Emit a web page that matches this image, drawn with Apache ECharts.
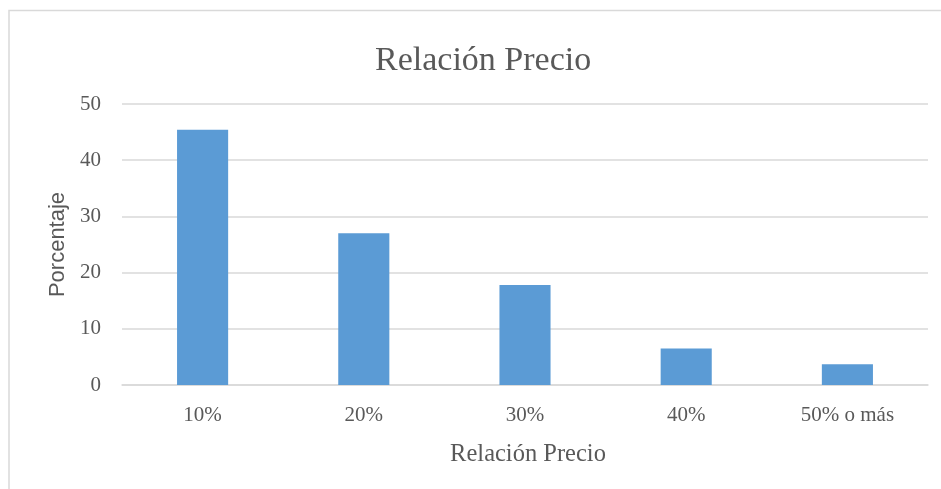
<!DOCTYPE html>
<html>
<head>
<meta charset="utf-8">
<script src="https://cdn.jsdelivr.net/npm/echarts@6/dist/echarts.min.js"></script>
<style>
  html, body { margin: 0; padding: 0; background: #fff; }
  #chartBox { width: 941px; height: 489px; }
</style>
</head>
<body>
<div id="chartBox"></div>
<script>
// categorías y valores
const categories = ["10%", "20%", "30%", "40%", "50% o más"];
const percentages = [45.4, 27.0, 17.8, 6.5, 3.7];

const chart = echarts.init(document.getElementById("chartBox"));

const option = {
  animation: false,
  // marco exterior del gráfico
  graphic: [
    {
      type: "rect",
      shape: { x: 9, y: 10.5, width: 960, height: 520 },
      style: { fill: "none", stroke: "#d9d9d9", lineWidth: 1.5 },
      silent: true,
    },
  ],
  title: {
    text: "Relación Precio",
    left: 370,
    top: 39,
    textStyle: {
      fontFamily: "Liberation Serif",
      fontWeight: "normal",
      fontSize: 34,
      color: "#595959",
    },
  },
  grid: {
    left: 122,
    right: 13,
    top: 104,
    bottom: 104,
  },
  xAxis: {
    type: "category",
    data: categories,
    name: "Relación Precio",
    nameLocation: "middle",
    nameGap: 57,
    nameTextStyle: {
      fontFamily: "Liberation Serif",
      fontSize: 24.5,
      color: "#595959",
      verticalAlign: "top",
      padding: [0, 0, 0, 6],
    },
    axisLine: { lineStyle: { color: "#d9d9d9", width: 1.5 } },
    axisTick: { show: false },
    axisLabel: {
      fontFamily: "Liberation Serif",
      fontSize: 21,
      color: "#595959",
      margin: 20,
    },
  },
  yAxis: {
    type: "value",
    min: 0,
    max: 50,
    interval: 10,
    name: "Porcentaje",
    nameLocation: "middle",
    nameGap: 53,
    nameTextStyle: {
      fontFamily: "Liberation Sans",
      fontSize: 22,
      color: "#595959",
    },
    axisLine: { show: false },
    axisTick: { show: false },
    axisLabel: {
      fontFamily: "Liberation Serif",
      fontSize: 21,
      color: "#595959",
      margin: 21,
    },
    splitLine: { lineStyle: { color: "#d9d9d9", width: 1.5 } },
  },
  series: [
    {
      name: "Porcentaje",
      type: "bar",
      data: percentages,
      barWidth: "31.7%",
      itemStyle: { color: "#5b9bd5" },
    },
  ],
};

chart.setOption(option);
</script>
</body>
</html>
